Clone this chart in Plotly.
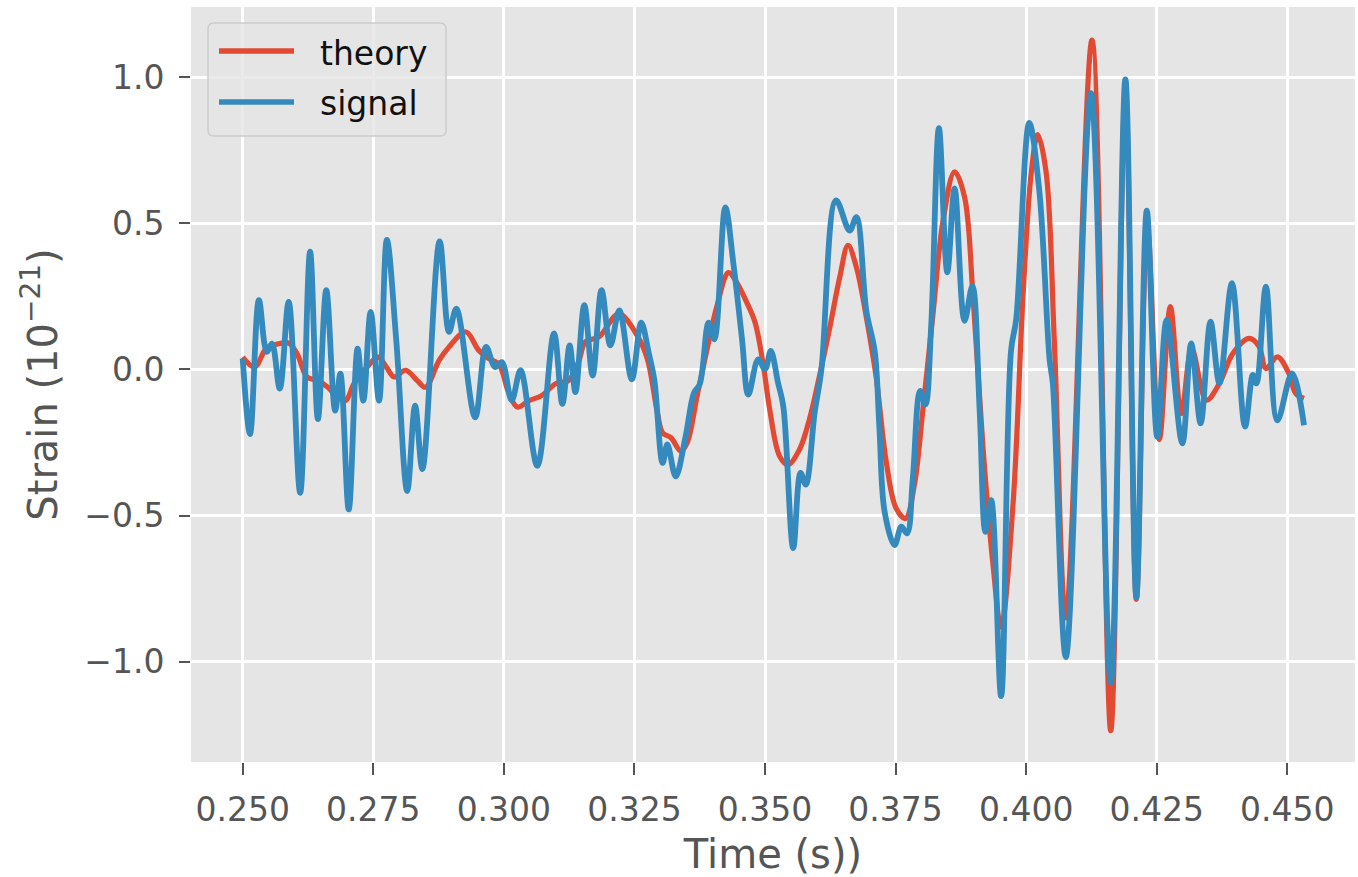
import plotly.graph_objects as go

# ---- data ----
theory_t = [0.2500, 0.2523, 0.2545, 0.2570, 0.2588, 0.2604, 0.2623, 0.2644, 0.2663, 0.2682,
            0.2697, 0.2713, 0.2738, 0.2759, 0.2775, 0.2790, 0.2812, 0.2834, 0.2850, 0.2876,
            0.2895, 0.2927, 0.2952, 0.2971, 0.2990, 0.3010, 0.3026, 0.3048, 0.3073, 0.3099,
            0.3124, 0.3144, 0.3156, 0.3182, 0.3220, 0.3256, 0.3275, 0.3294, 0.3304, 0.3320,
            0.3339, 0.3351, 0.3370, 0.3389, 0.3408, 0.3430, 0.3446, 0.3465, 0.3481, 0.3497,
            0.3509, 0.3528, 0.3544, 0.3566, 0.3585, 0.3605, 0.3624, 0.3643, 0.3659, 0.3675,
            0.3694, 0.3713, 0.3732, 0.3751, 0.3769, 0.3786, 0.3802, 0.3821, 0.3841, 0.3863,
            0.3882, 0.3898, 0.3917, 0.3936, 0.3952, 0.3975, 0.3994, 0.4010, 0.4022, 0.4038,
            0.4054, 0.4076, 0.4126, 0.4162, 0.4190, 0.4211, 0.4232, 0.4255, 0.4276, 0.4297,
            0.4317, 0.4345, 0.4370, 0.4396, 0.4427, 0.4446, 0.4459, 0.4481, 0.4503, 0.4516,
            0.4532]
theory_y = [0.042, 0.008, 0.071, 0.088, 0.090, 0.054, -0.026, -0.038, -0.061, -0.095,
            -0.107, -0.049, 0.008, 0.042, 0.008, -0.026, -0.003, -0.038, -0.061, 0.031,
            0.077, 0.128, 0.065, 0.037, 0.019, -0.084, -0.129, -0.107, -0.089, -0.049,
            -0.038, 0.031, 0.094, 0.111, 0.190, 0.114, 0.034, -0.149, -0.217, -0.234,
            -0.280, -0.251, -0.091, 0.069, 0.217, 0.331, 0.297, 0.229, 0.160, 0.011,
            -0.137, -0.297, -0.326, -0.274, -0.171, -0.017, 0.143, 0.315, 0.424, 0.349,
            0.178, -0.029, -0.315, -0.475, -0.510, -0.395, -0.143, 0.178, 0.510, 0.676,
            0.590, 0.258, -0.258, -0.659, -0.882, -0.457, 0.252, 0.677, 0.803, 0.677,
            0.094, -0.850, 1.126, -1.236, 0.961, -0.787, 0.488, -0.240, 0.215, -0.151,
            0.070, -0.105, -0.048, 0.055, 0.106, 0.078, 0.003, 0.043, -0.014, -0.082,
            -0.099]

signal_t = [0.2500, 0.2514, 0.2531, 0.2546, 0.2556, 0.2571, 0.2588, 0.2610, 0.2629, 0.2644,
            0.2660, 0.2677, 0.2687, 0.2703, 0.2720, 0.2731, 0.2745, 0.2761, 0.2776, 0.2794,
            0.2815, 0.2830, 0.2844, 0.2877, 0.2895, 0.2909, 0.2945, 0.2966, 0.2983, 0.2996,
            0.3015, 0.3032, 0.3064, 0.3096, 0.3112, 0.3126, 0.3137, 0.3154, 0.3170, 0.3187,
            0.3204, 0.3221, 0.3245, 0.3263, 0.3278, 0.3288, 0.3304, 0.3313, 0.3329, 0.3348,
            0.3364, 0.3375, 0.3392, 0.3403, 0.3424, 0.3440, 0.3456, 0.3468, 0.3487, 0.3500,
            0.3511, 0.3525, 0.3535, 0.3554, 0.3568, 0.3578, 0.3595, 0.3608, 0.3636, 0.3662,
            0.3675, 0.3694, 0.3710, 0.3719, 0.3729, 0.3748, 0.3761, 0.3772, 0.3783, 0.3797,
            0.3807, 0.3818, 0.3833, 0.3849, 0.3863, 0.3882, 0.3897, 0.3911, 0.3922, 0.3933,
            0.3952, 0.3971, 0.3981, 0.4006, 0.4025, 0.4045, 0.4051, 0.4076, 0.4124, 0.4162,
            0.4190, 0.4211, 0.4231, 0.4251, 0.4269, 0.4299, 0.4316, 0.4334, 0.4353, 0.4370,
            0.4394, 0.4419, 0.4434, 0.4441, 0.4459, 0.4481, 0.4509, 0.4532]
signal_y = [0.037, -0.221, 0.237, 0.060, 0.088, -0.066, 0.231, -0.422, 0.403, -0.170,
            0.271, -0.141, -0.015, -0.479, 0.071, -0.107, 0.197, -0.107, 0.443, 0.100,
            -0.416, -0.124, -0.341, 0.438, 0.128, 0.208, -0.164, 0.077, 0.008, 0.025,
            -0.106, -0.003, -0.330, 0.123, -0.118, 0.082, -0.078, 0.220, -0.021, 0.271,
            0.082, 0.202, -0.034, 0.160, 0.051, -0.034, -0.320, -0.257, -0.366, -0.229,
            -0.080, -0.051, 0.160, 0.103, 0.554, 0.354, 0.103, -0.086, 0.034, 0.000,
            0.063, -0.046, -0.126, -0.611, -0.354, -0.394, -0.149, 0.000, 0.578, 0.475,
            0.521, 0.200, 0.063, -0.200, -0.487, -0.601, -0.538, -0.561, -0.372, -0.074,
            -0.120, 0.143, 0.825, 0.332, 0.619, 0.166, 0.286, -0.143, -0.556, -0.447,
            -1.118, 0.063, 0.173, 0.843, 0.614, 0.031, -0.047, -0.984, 0.945, -1.071,
            0.992, -0.780, 0.543, -0.231, 0.169, -0.253, 0.089, -0.185, 0.163, -0.048,
            0.295, -0.196, -0.019, -0.048, 0.283, -0.174, -0.014, -0.191]

x_ticks = [0.250, 0.275, 0.300, 0.325, 0.350, 0.375, 0.400, 0.425, 0.450]
x_tick_labels = ["0.250", "0.275", "0.300", "0.325", "0.350", "0.375", "0.400", "0.425", "0.450"]
y_ticks = [-1.0, -0.5, 0.0, 0.5, 1.0]
y_tick_labels = ["\u22121.0", "\u22120.5", "0.0", "0.5", "1.0"]
series_names = ["theory", "signal"]
series_colors = ["#E24A33", "#348ABD"]

# ---- layout geometry (pixels) ----
W, H = 1358, 877
ML, MR, MT, MB = 191, 3, 7, 115
PW, PH = W - ML - MR, H - MT - MB
FONT = "DejaVu Sans"

fig = go.Figure()
fig.add_trace(go.Scatter(x=theory_t, y=theory_y, mode="lines", name=series_names[0],
                         line=dict(color=series_colors[0], width=5.2, shape="spline", smoothing=1.0),
                         showlegend=False))
fig.add_trace(go.Scatter(x=signal_t, y=signal_y, mode="lines", name=series_names[1],
                         line=dict(color=series_colors[1], width=5.8, shape="spline", smoothing=1.0),
                         showlegend=False))

# ---- legend drawn like matplotlib's (box, long line samples) ----
def px2paper(px, py):
    return (px - ML) / PW, (H - MB - py) / PH

bx0, by0 = px2paper(208, 136)
bx1, by1 = px2paper(446, 23)
rx, ry = 6 / PW, 6 / PH
path = (f"M {bx0+rx},{by0} L {bx1-rx},{by0} Q {bx1},{by0} {bx1},{by0+ry} "
        f"L {bx1},{by1-ry} Q {bx1},{by1} {bx1-rx},{by1} L {bx0+rx},{by1} "
        f"Q {bx0},{by1} {bx0},{by1-ry} L {bx0},{by0+ry} Q {bx0},{by0} {bx0+rx},{by0} Z")
shapes = [dict(type="path", xref="paper", yref="paper", path=path,
               fillcolor="rgba(229,229,229,0.8)", line=dict(color="#CCCCCC", width=1.5),
               layer="above")]
annotations = []
for i, (name, col) in enumerate(zip(series_names, series_colors)):
    ly = 51 + i * 51
    lx0, lyp = px2paper(219, ly)
    lx1, _ = px2paper(294, ly)
    shapes.append(dict(type="line", xref="paper", yref="paper", x0=lx0, x1=lx1, y0=lyp, y1=lyp,
                       line=dict(color=col, width=5.5), layer="above"))
    tx, ty = px2paper(318, ly + 2)
    annotations.append(dict(xref="paper", yref="paper", x=tx, y=ty, text=name, showarrow=False,
                            xanchor="left", yanchor="middle",
                            font=dict(family=FONT, size=33, color="#111111")))

fig.update_layout(
    width=W, height=H,
    margin=dict(l=ML, r=MR, t=MT, b=MB, pad=0),
    paper_bgcolor="white",
    plot_bgcolor="#E5E5E5",
    font=dict(family=FONT, color="#555555"),
    shapes=shapes,
    annotations=annotations,
    showlegend=False,
)
fig.update_xaxes(
    range=[0.24010, 0.46296],
    tickvals=x_ticks, ticktext=x_tick_labels,
    showgrid=True, gridcolor="white", gridwidth=2.5, zeroline=False, showline=False,
    ticks="outside", ticklen=12, tickwidth=2, tickcolor="#555555",
    tickfont=dict(family=FONT, size=33, color="#555555"),
    ticklabelstandoff=6,
    title=dict(text="Time (s))", font=dict(family=FONT, size=40, color="#555555"), standoff=16),
)
fig.update_yaxes(
    range=[-1.343, 1.2396],
    tickvals=y_ticks, ticktext=y_tick_labels,
    showgrid=True, gridcolor="white", gridwidth=2.5, zeroline=False, showline=False,
    ticks="outside", ticklen=11, tickwidth=2, tickcolor="#555555",
    tickfont=dict(family=FONT, size=33, color="#555555"),
    ticklabelstandoff=8,
    title=dict(text="Strain (10<sup>\u221221</sup>)", font=dict(family=FONT, size=40, color="#555555"),
               standoff=14),
)

fig.write_html("out.html")
